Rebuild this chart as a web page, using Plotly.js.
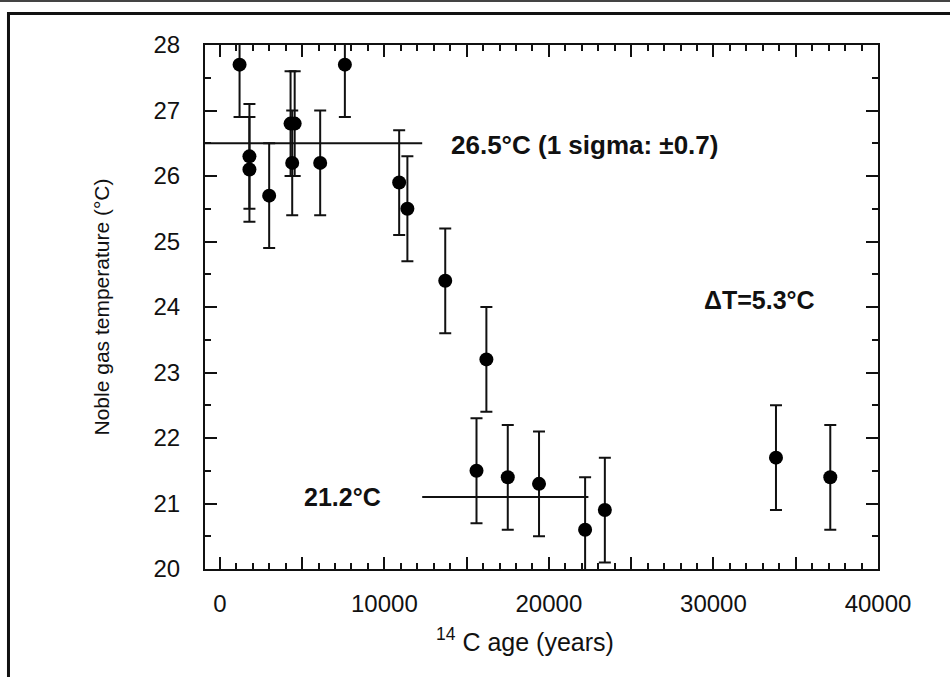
<!DOCTYPE html>
<html>
<head>
<meta charset="utf-8">
<script src="https://cdn.plot.ly/plotly-3.0.1.min.js"></script>
<style>
  html, body { margin: 0; padding: 0; background: #ffffff; }
  #chart { width: 950px; height: 677px; }
</style>
</head>
<body>
<div id="chart"></div>
<script>
// ---- data ----
const ageYears = [1200, 1800, 1800, 3000, 4300, 4550, 4400, 6100, 7600, 10900, 11400, 13700, 16200, 15600, 17500, 19400, 22200, 23400, 33800, 37100];
const nobleGasTemp = [27.7, 26.3, 26.1, 25.7, 26.8, 26.8, 26.2, 26.2, 27.7, 25.9, 25.5, 24.4, 23.2, 21.5, 21.4, 21.3, 20.6, 20.9, 21.7, 21.4];
const tempError = [0.8, 0.8, 0.8, 0.8, 0.8, 0.8, 0.8, 0.8, 0.8, 0.8, 0.8, 0.8, 0.8, 0.8, 0.8, 0.8, 0.8, 0.8, 0.8, 0.8];

const holoceneMeanX = [-900, 12300];
const holoceneMeanY = [26.5, 26.5];
const glacialMeanX = [12300, 22400];
const glacialMeanY = [21.1, 21.1];

const xLabelVals = [0, 10000, 20000, 30000, 40000];
const xLabelText = ['0', '10000', '20000', '30000', '40000'];
const xMajorStep = 5000;
const xMinorStep = 1000;
const yTickVals = [20, 21, 22, 23, 24, 25, 26, 27, 28];
const yTickText = ['20', '21', '22', '23', '24', '25', '26', '27', '28'];

const labelHolocene = '26.5°C (1 sigma: ±0.7)';
const labelGlacial = '21.2°C';
const labelDelta = 'ΔT=5.3°C';
const xTitle = '<sup>14</sup> C age (years)';
const yTitle = 'Noble gas temperature (°C)';

// ---- chart ----
const FONT = 'Liberation Sans, Arial, Helvetica, sans-serif';
const INK = '#111111';

const traces = [
  {
    x: holoceneMeanX, y: holoceneMeanY, xaxis: 'x2', yaxis: 'y', type: 'scatter', mode: 'lines',
    line: { color: INK, width: 2 }, hoverinfo: 'skip', showlegend: false
  },
  {
    x: glacialMeanX, y: glacialMeanY, xaxis: 'x2', yaxis: 'y', type: 'scatter', mode: 'lines',
    line: { color: INK, width: 2 }, hoverinfo: 'skip', showlegend: false
  },
  {
    x: ageYears, y: nobleGasTemp, type: 'scatter', mode: 'markers',
    marker: { color: '#000000', size: 14, symbol: 'circle' },
    error_y: { type: 'data', array: tempError, visible: true, color: INK, thickness: 2, width: 6 },
    showlegend: false
  }
];

const layout = {
  width: 950, height: 677,
  paper_bgcolor: '#ffffff', plot_bgcolor: '#ffffff',
  margin: { l: 205, r: 72, t: 45, b: 108 },
  showlegend: false,
  xaxis: {
    range: [-900, 40000],
    showgrid: false, zeroline: false,
    showline: true, linecolor: INK, linewidth: 2, mirror: 'ticks',
    tickmode: 'array', tickvals: xLabelVals, ticktext: xLabelText,
    ticks: 'inside', ticklen: 12, tickwidth: 2, tickcolor: INK,
    tickfont: { family: FONT, size: 24, color: INK },
    ticklabelstandoff: 12,
    minor: { dtick: xMinorStep, tick0: 0, ticks: 'inside', ticklen: 6, tickwidth: 2, tickcolor: INK }
  },
  xaxis2: {
    matches: 'x', overlaying: 'x', anchor: 'y', side: 'bottom',
    showgrid: false, zeroline: false,
    showline: true, linecolor: INK, linewidth: 2, mirror: 'ticks',
    tickmode: 'linear', tick0: 0, dtick: xMajorStep, showticklabels: false,
    ticks: 'inside', ticklen: 12, tickwidth: 2, tickcolor: INK
  },
  yaxis: {
    range: [20, 28],
    showgrid: false, zeroline: false,
    showline: true, linecolor: INK, linewidth: 2, mirror: 'ticks',
    tickmode: 'array', tickvals: yTickVals, ticktext: yTickText,
    ticks: 'inside', ticklen: 12, tickwidth: 2, tickcolor: INK,
    tickfont: { family: FONT, size: 24, color: INK },
    ticklabelstandoff: 18,
    minor: { dtick: 0.5, tick0: 20, ticks: 'inside', ticklen: 6, tickwidth: 2, tickcolor: INK },
    title: { text: yTitle, font: { family: FONT, size: 21, color: INK }, standoff: 38 }
  },
  annotations: [
    { x: 0.4755, y: -0.136, xref: 'paper', yref: 'paper', text: xTitle, showarrow: false,
      xanchor: 'center', yanchor: 'middle', font: { family: FONT, size: 25, color: INK } },
    { x: 13900, y: 26.47, xref: 'x', yref: 'y', text: '<b>' + labelHolocene + '</b>', showarrow: false,
      xanchor: 'left', yanchor: 'middle', font: { family: FONT, size: 26, color: INK } },
    { x: 29300, y: 24.1, xref: 'x', yref: 'y', text: '<b>' + labelDelta + '</b>', showarrow: false,
      xanchor: 'left', yanchor: 'middle', font: { family: FONT, size: 25, color: INK } },
    { x: 5000, y: 21.1, xref: 'x', yref: 'y', text: '<b>' + labelGlacial + '</b>', showarrow: false,
      xanchor: 'left', yanchor: 'middle', font: { family: FONT, size: 25, color: INK } }
  ],
  shapes: [
    { type: 'rect', xref: 'paper', yref: 'paper', x0: -0.292, x1: 1.12, y0: -0.215, y1: 1.060,
      line: { color: INK, width: 3 }, fillcolor: 'rgba(0,0,0,0)', layer: 'below' },
    { type: 'line', xref: 'paper', yref: 'paper', x0: -0.31, x1: 1.12, y0: 1.085, y1: 1.085,
      line: { color: '#444444', width: 3 } }
  ]
};

Plotly.newPlot('chart', traces, layout, { displayModeBar: false, staticPlot: true });
</script>
</body>
</html>
